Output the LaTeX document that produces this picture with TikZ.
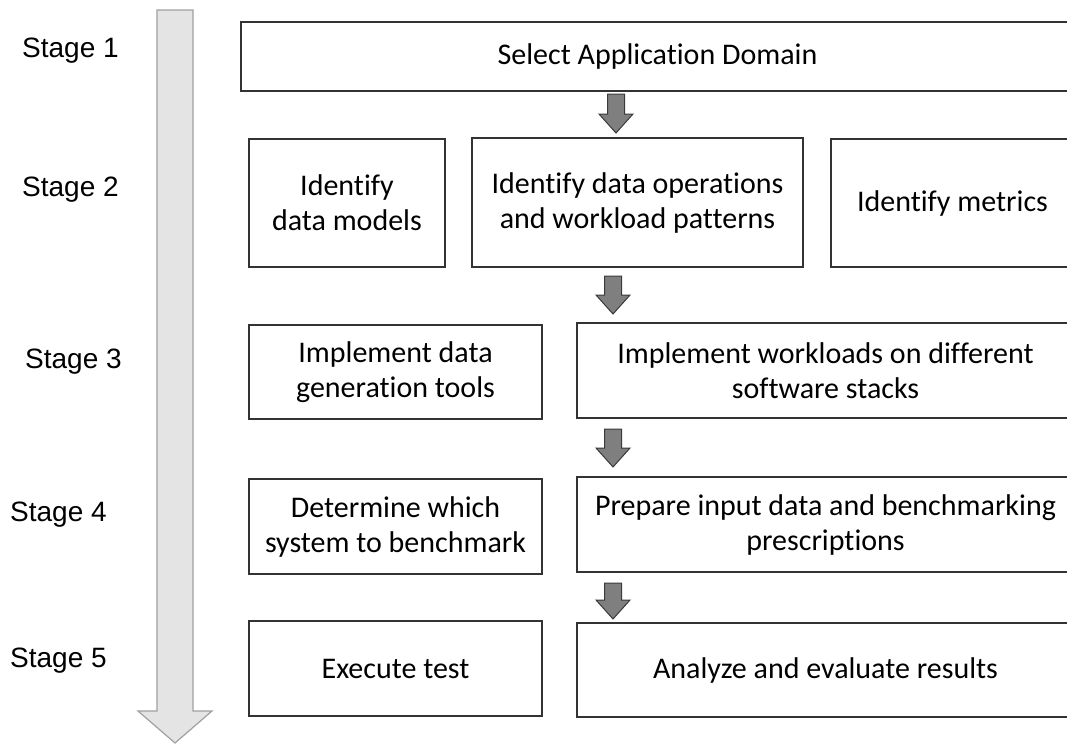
\documentclass[tikz,border=0pt]{standalone}
\usepackage{fontspec}
\setmainfont{Carlito}[Ligatures=NoCommon]
\newfontfamily\stagefont{Liberation Sans}
\usetikzlibrary{positioning}

\definecolor{boxgray}{HTML}{333333}
\definecolor{arrowgray}{HTML}{7F7F7F}
\definecolor{arrowedge}{HTML}{3A3A3A}
\definecolor{timefill}{HTML}{E4E4E4}
\definecolor{timeedge}{HTML}{A0A0A0}

\tikzset{
    stagebox/.style={draw=boxgray, line width=1.4pt, align=center, inner sep=0pt,
        text=black, font=\fontsize{30}{35}\selectfont},
    stagelabel/.style={anchor=base west, inner sep=0pt, font=\stagefont\fontsize{28}{34}\selectfont},
    flowarrow/.style={fill=arrowgray, draw=arrowedge, line width=1pt},
    timearrow/.style={fill=timefill, draw=timeedge, line width=1.2pt}
}

% block arrow pointing down: x, top, tip
\newcommand{\flowdown}[3]{%
    \draw[flowarrow] (#1-8.5,#2) -- (#1+8.5,#2) -- (#1+8.5,#3-19) -- (#1+17,#3-19)
        -- (#1,#3) -- (#1-17,#3-19) -- (#1-8.5,#3-19) -- cycle;}

\begin{document}
\begin{tikzpicture}[x=1pt, y=-1pt]
    \clip (0,0) rectangle (1067,744);

    % time line on the left
    \draw[timearrow] (157,10) -- (193,10) -- (193,711) -- (212,711) -- (175,743)
        -- (138,711) -- (157,711) -- cycle;

    \node[stagelabel] (s1) at (22,57) {Stage 1};
    \node[stagelabel] (s2) at (22,196) {Stage 2};
    \node[stagelabel] (s3) at (25,368) {Stage 3};
    \node[stagelabel] (s4) at (10,521) {Stage 4};
    \node[stagelabel] (s5) at (10,667) {Stage 5};

    % stage 1
    \node[stagebox, minimum width=833, minimum height=69] (domain) at (657.5,56.5) {Select Application Domain};

    % stage 2
    \node[stagebox, minimum width=196, minimum height=128] (models) at (347,203) {Identify\\data models};
    \node[stagebox, minimum width=331, minimum height=129] (ops) at (637.5,202.5) {Identify data operations\\and workload patterns};
    \node[stagebox, minimum width=243, minimum height=128] (metrics) at (952.5,203) {Identify metrics};

    % stage 3
    \node[stagebox, minimum width=293, minimum height=94] (gen) at (395.5,372) {Implement data\\generation tools};
    \node[stagebox, minimum width=497, minimum height=95] (work) at (825.5,370.5) {Implement workloads on different\\software stacks};

    % stage 4
    \node[stagebox, minimum width=293, minimum height=95] (system) at (395.5,526.5) {Determine which\\system to benchmark};
    \node[stagebox, minimum width=497, minimum height=95] (prep) at (825.5,524.5) {Prepare input data and benchmarking\\prescriptions};

    % stage 5
    \node[stagebox, minimum width=293, minimum height=95] (exec) at (395.5,668.5) {Execute test};
    \node[stagebox, minimum width=497, minimum height=94] (results) at (825.5,670) {Analyze and evaluate results};

    % arrows between stages
    \flowdown{616}{94}{133}
    \flowdown{613}{276}{314}
    \flowdown{613}{429}{467}
    \flowdown{613}{583}{619}
\end{tikzpicture}
\end{document}
